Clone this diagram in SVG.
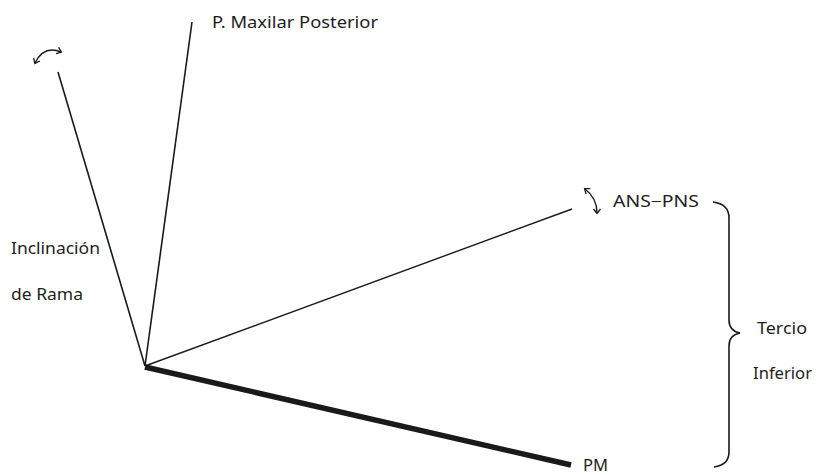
<svg xmlns="http://www.w3.org/2000/svg" width="828" height="475" viewBox="0 0 828 475">
<defs>
<style>
.t{font-family:"Noto Sans","Open Sans","Liberation Sans",sans-serif;font-size:15.5px;fill:#1e1e1e}
.ln{stroke:#1a1a1a;fill:none}
</style>
<marker id="ah" markerWidth="10" markerHeight="10" refX="5" refY="4" orient="auto-start-reverse" markerUnits="userSpaceOnUse">
<path d="M1,0.5 L5.5,4 L1,7.5" fill="none" stroke="#1a1a1a" stroke-width="1.3"/>
</marker>
</defs>
<rect width="828" height="475" fill="#fff"/>
<g id="connectors">
<line class="ln" x1="145" y1="366" x2="58" y2="72" stroke-width="1.6"/>
<line class="ln" x1="145" y1="366" x2="192" y2="22" stroke-width="1.6"/>
<line class="ln" x1="145" y1="366" x2="572" y2="209" stroke-width="1.4"/>
<line class="ln" x1="145" y1="367" x2="571" y2="465" stroke-width="5.5" stroke="#000"/>
<path class="ln" d="M35,63 Q44,45 61,52" stroke-width="1.4" marker-start="url(#ah)" marker-end="url(#ah)"/>
<path class="ln" d="M585,189 Q597,198 597,213" stroke-width="1.4" marker-start="url(#ah)" marker-end="url(#ah)"/>
<path class="ln" d="M713,202 Q729,204 729,218 L729,320 Q729,331 740,333 Q729,335 729,346 L729,452 Q729,465 714,467" stroke-width="1.6"/>
</g>
<g id="p-maxilar"><text class="t" x="212" y="28" textLength="166" lengthAdjust="spacingAndGlyphs">P. Maxilar Posterior</text></g>
<g id="ans-pns"><text class="t" x="613" y="207" textLength="86" lengthAdjust="spacingAndGlyphs">ANS−PNS</text></g>
<g id="inclinacion"><text class="t" x="11" y="254" textLength="89" lengthAdjust="spacingAndGlyphs">Inclinación</text><text class="t" x="11" y="300" textLength="72" lengthAdjust="spacingAndGlyphs">de Rama</text></g>
<g id="tercio"><text class="t" x="757" y="334" textLength="50" lengthAdjust="spacingAndGlyphs">Tercio</text><text class="t" x="753" y="379" textLength="59" lengthAdjust="spacingAndGlyphs">Inferior</text></g>
<g id="pm"><text class="t" x="583" y="471" font-size="14" textLength="25" lengthAdjust="spacingAndGlyphs">PM</text></g>
</svg>
